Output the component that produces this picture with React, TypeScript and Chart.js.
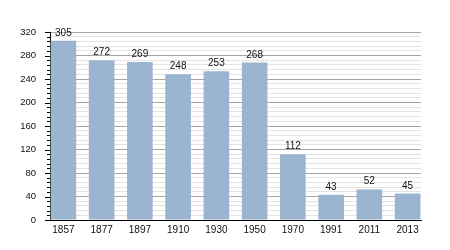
import React, { useEffect, useRef } from "react";
import { Chart, registerables } from "chart.js";

Chart.register(...registerables);

const years: string[] = ["1857", "1877", "1897", "1910", "1930", "1950", "1970", "1991", "2011", "2013"];
const population: number[] = [305, 272, 269, 248, 253, 268, 112, 43, 52, 45];
const yMax = 320;
const yMinorStep = 8;
const yMajorStep = 40;

const FONT = "'Liberation Sans', Arial, sans-serif";

const tickMarksPlugin = {
  id: "tickMarks",
  afterDraw(chart: any) {
    const scale = chart.scales.y;
    const ctx = chart.ctx;
    ctx.save();
    ctx.strokeStyle = "#000";
    ctx.lineWidth = 1;
    scale.ticks.forEach((t: any) => {
      const y = Math.round(scale.getPixelForValue(t.value)) + 0.5;
      const len = t.value % yMajorStep === 0 ? 5 : 3;
      ctx.beginPath();
      ctx.moveTo(scale.right - len, y);
      ctx.lineTo(scale.right, y);
      ctx.stroke();
    });
    ctx.restore();
  },
};

const valueLabelsPlugin = {
  id: "valueLabels",
  afterDatasetsDraw(chart: any) {
    const ctx = chart.ctx;
    const meta = chart.getDatasetMeta(0);
    ctx.save();
    ctx.fillStyle = "#111";
    ctx.font = `10px ${FONT}`;
    ctx.textAlign = "center";
    ctx.textBaseline = "alphabetic";
    meta.data.forEach((bar: any, i: number) => {
      ctx.fillText(String(population[i]), bar.x, bar.y - 5);
    });
    ctx.restore();
  },
};

export default function App() {
  const canvasRef = useRef<HTMLCanvasElement | null>(null);

  useEffect(() => {
    if (!canvasRef.current) return;
    const chart = new Chart(canvasRef.current, {
      type: "bar",
      data: {
        datasets: [
          {
            data: population.map((v, i) => ({ x: i, y: v })),
            backgroundColor: "#9bb4cf",
            borderWidth: 0,
            barPercentage: 0.67,
            categoryPercentage: 1,
          },
        ],
      },
      options: {
        animation: false,
        responsive: false,
        maintainAspectRatio: false,
        layout: { padding: { top: 32, right: 29, left: 0, bottom: 0 } },
        plugins: {
          legend: { display: false },
          tooltip: { enabled: false },
        },
        scales: {
          x: {
            type: "linear",
            offset: false,
            min: -0.35,
            max: 9.35,
            afterBuildTicks: (scale: any) => {
              scale.ticks = years.map((_, i) => ({ value: i }));
            },
            afterFit: (scale: any) => {
              scale.height = 30;
            },
            grid: { display: false, drawTicks: false, offset: false },
            border: { display: true, color: "#000", width: 1 },
            ticks: {
              autoSkip: false,
              maxRotation: 0,
              padding: 4,
              color: "#111",
              font: { family: FONT, size: 10 },
              callback: (v: any) => years[v as number] ?? "",
            },
          },
          y: {
            min: 0,
            max: yMax,
            afterFit: (scale: any) => {
              scale.width = 50;
            },
            grid: {
              drawTicks: false,
              color: (c: any) =>
                c.tick && c.tick.value % yMajorStep === 0 ? "#a6a6a6" : "#e3e3e3",
            },
            border: { display: true, color: "#000", width: 1 },
            ticks: {
              stepSize: yMinorStep,
              autoSkip: false,
              padding: 14,
              color: "#111",
              font: { family: FONT, size: 9.5 },
              callback: (v: any) => ((v as number) % yMajorStep === 0 ? String(v) : ""),
            },
          },
        },
      },
      plugins: [tickMarksPlugin, valueLabelsPlugin],
    });
    return () => chart.destroy();
  }, []);

  return (
    <div style={{ position: "fixed", left: 0, top: 0, width: 450, height: 250, background: "#fff" }}>
      <canvas ref={canvasRef} width={450} height={250} style={{ width: 450, height: 250 }} />
    </div>
  );
}
